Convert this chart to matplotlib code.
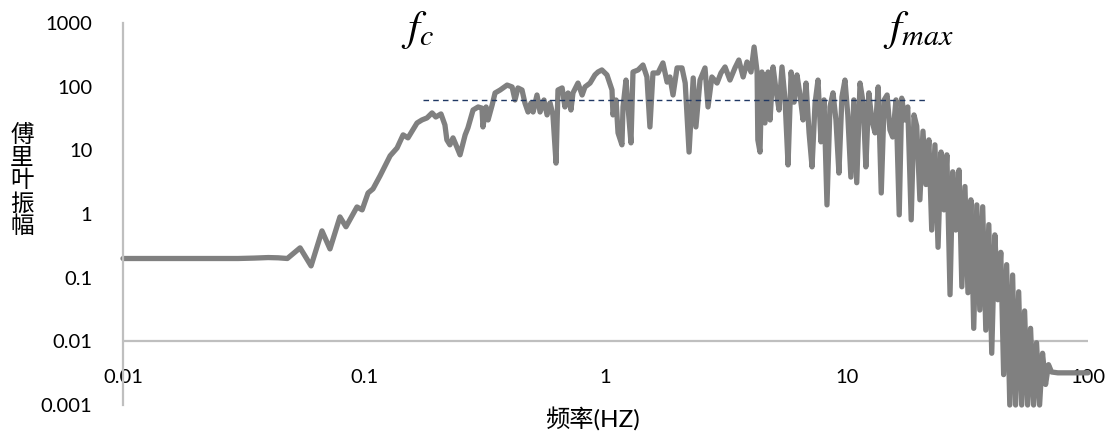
import matplotlib
matplotlib.use('Agg')
import matplotlib.pyplot as plt
from matplotlib.ticker import NullLocator

plt.rcParams['font.family'] = ['Lato', 'Noto Sans CJK SC', 'DejaVu Sans']
plt.rcParams['mathtext.fontset'] = 'stix'

# ---- data ----
freq_low = [0.010, 0.015, 0.020, 0.025, 0.030, 0.035, 0.040, 0.044, 0.048,
            0.0542, 0.0602, 0.0668, 0.0721, 0.0793, 0.0840, 0.0933, 0.098,
            0.1037, 0.1087, 0.1162, 0.128, 0.1368, 0.1449, 0.1518, 0.1655,
            0.1734, 0.182, 0.191, 0.198, 0.208, 0.216, 0.220, 0.2265, 0.2333,
            0.242, 0.2495, 0.262, 0.269, 0.2825, 0.2965, 0.3076, 0.3105, 0.320,
            0.326, 0.339, 0.3485, 0.366, 0.391, 0.410, 0.4217, 0.4335, 0.4508,
            0.4634, 0.4775, 0.491, 0.501, 0.520, 0.5355, 0.556, 0.5725, 0.589,
            0.6055, 0.6237, 0.6353, 0.661, 0.679, 0.6995, 0.719, 0.733, 0.769,
            0.800, 0.822, 0.863, 0.904, 0.931, 0.966]
amp_low = [0.20, 0.20, 0.20, 0.20, 0.20, 0.203, 0.207, 0.205, 0.20,
           0.294, 0.153, 0.543, 0.283, 0.90, 0.63, 1.29, 1.16,
           2.14, 2.48, 3.96, 8.2, 10.9, 17.5, 15.7, 26.9,
           30, 32.3, 38.7, 33.4, 37.3, 25, 14.6, 12.2, 15.7,
           11.3, 8.5, 17.5, 22.5, 43, 48, 46, 23.3, 48,
           30, 51.6, 79.6, 88.7, 106, 99, 61.8, 95.5, 88.7,
           55.5, 40, 55.5, 40, 74, 40, 61.8, 36, 55.5,
           36, 6.3, 88.7, 95.5, 48, 79.6, 43, 79.6, 114,
           74, 99, 114, 153, 170, 183]

freq_mid = [1.014, 1.064, 1.074, 1.106, 1.127, 1.17, 1.182, 1.216, 1.240,
            1.275, 1.30, 1.365, 1.43, 1.485, 1.528, 1.573, 1.65, 1.73, 1.80,
            1.85, 1.905, 1.98, 2.075, 2.14, 2.22, 2.31, 2.37, 2.465, 2.585,
            2.66, 2.76, 2.90, 3.01, 3.13, 3.28, 3.44, 3.57, 3.72, 3.86, 4.01,
            4.13, 4.25, 4.28, 4.37, 4.45, 4.58, 4.72]
amp_mid = [153, 88.7, 36, 61.8, 18.8, 12.2, 48, 127, 48,
           13.1, 170, 183, 219, 142, 23.3, 164, 164, 236, 118,
           142, 74, 197, 197, 114, 9.4, 137, 23.3, 127, 197,
           48, 142, 114, 164, 204, 127, 197, 262, 142, 244, 170,
           420, 170, 14.6, 9.4, 170, 26.9, 170]

freq_high = [4.81, 4.95, 5.09, 5.24, 5.39, 5.55, 5.71, 5.88, 6.05, 6.22,
             6.40, 6.59, 6.78, 6.98, 7.18, 7.39, 7.60, 7.82, 8.05, 8.28,
             8.52, 8.77, 9.02, 9.28, 9.55, 9.83, 10.1, 10.4, 10.7, 11.0,
             11.35, 11.7, 12.0, 12.35, 12.7, 13.1, 13.5, 13.9, 14.3, 14.7,
             15.1, 15.5, 16.0, 16.5, 16.9, 17.4, 17.9, 18.5, 19.0, 19.5,
             20.1, 20.7, 21.3, 21.9, 22.5, 23.2, 23.9, 24.6, 25.3, 26.0,
             26.8, 27.5, 28.3, 29.2, 30.0, 30.9, 31.8, 32.7, 33.6, 34.6,
             35.6, 36.6, 37.7, 38.8, 39.9, 41.1, 42.3, 43.5, 44.7, 46.0,
             47.4, 48.7, 50.1, 51.6, 53.1, 54.6, 56.2, 57.8, 59.5, 61.2,
             63.0, 64.8, 66.7, 68.6, 70.6, 75.0, 100.0]
amp_high = [30, 204, 89, 43, 204, 62, 5.9, 170, 57, 153,
            74, 30, 114, 18.8, 5.5, 55, 127, 13.6, 62, 1.39,
            48, 80, 30, 4.4, 69, 127, 36, 3.8, 62, 3.1,
            114, 55, 5.5, 80, 30, 18.8, 99, 2.14, 62, 74,
            21, 16.2, 62, 0.97, 66, 30, 48, 0.81, 36, 24,
            1.67, 20, 2.9, 14.6, 0.56, 12.2, 0.30, 9.4, 1.16, 8.5,
            0.054, 4.6, 0.56, 4.9, 0.072, 2.7, 0.058, 1.67, 0.016, 1.39,
            0.031, 1.3, 0.015, 0.68, 0.0065, 0.47, 0.045, 0.25, 0.003, 0.16,
            0.001, 0.11, 0.001, 0.06, 0.001, 0.03, 0.001, 0.016, 0.001, 0.0095,
            0.001, 0.0065, 0.0021, 0.0043, 0.0033, 0.0032, 0.0032]

dash_freq = [0.175, 21.5]
dash_amp = [61.8, 61.8]

x_ticks = [0.01, 0.1, 1, 10, 100]
x_labels = ['0.01', '0.1', '1', '10', '100']
y_ticks = [0.001, 0.01, 0.1, 1, 10, 100, 1000]
y_labels = ['0.001', '0.01', '0.1', '1', '10', '100', '1000']

freq = freq_low + freq_mid + freq_high
amp = amp_low + amp_mid + amp_high

W, H = 1105, 432
fig = plt.figure(figsize=(W / 100, H / 100), dpi=100)
ax = fig.add_axes([123 / W, 1 - 405 / H, (1088 - 123) / W, (405 - 23) / H])
ax.set_xscale('log')
ax.set_yscale('log')
ax.set_xlim(0.01, 100)
ax.set_ylim(0.001, 1000)

ax.axhline(0.01, color='#bfbfbf', lw=1.6, zorder=1)
ax.plot(freq, amp, color='#808080', lw=3.8, solid_joinstyle='round',
        solid_capstyle='round', clip_on=False, zorder=2)
ax.plot(dash_freq, dash_amp, color='#203864', lw=1.0, ls=(0, (4, 3)), zorder=2.2)

for s in ['top', 'right', 'bottom']:
    ax.spines[s].set_visible(False)
ax.spines['left'].set_color('#bfbfbf')
ax.spines['left'].set_linewidth(1.6)

ax.set_xticks(x_ticks)
ax.set_xticklabels(x_labels)
ax.set_yticks(y_ticks)
ax.set_yticklabels(y_labels)
ax.xaxis.set_minor_locator(NullLocator())
ax.yaxis.set_minor_locator(NullLocator())
ax.tick_params(axis='y', length=0, pad=22, labelsize=14.5, labelcolor='#000000')
ax.tick_params(axis='x', length=0, pad=-26, labelsize=14.5, labelcolor='#000000')

fig.text(22 / W, 1 - 181 / H, '傅\n里\n叶\n振\n幅', ha='center', va='center',
         fontsize=17, linespacing=1.0, family=['Noto Sans CJK SC'])
fig.text(592 / W, 1 - 420 / H, '频率(HZ)', ha='center', va='center', fontsize=17.5)
fig.text(418 / W, 1 - 30 / H, r'$f_c$', ha='center', va='center', fontsize=31)
fig.text(918 / W, 1 - 30 / H, r'$f_{max}$', ha='center', va='center', fontsize=31)

fig.savefig('out.png', dpi=100)
